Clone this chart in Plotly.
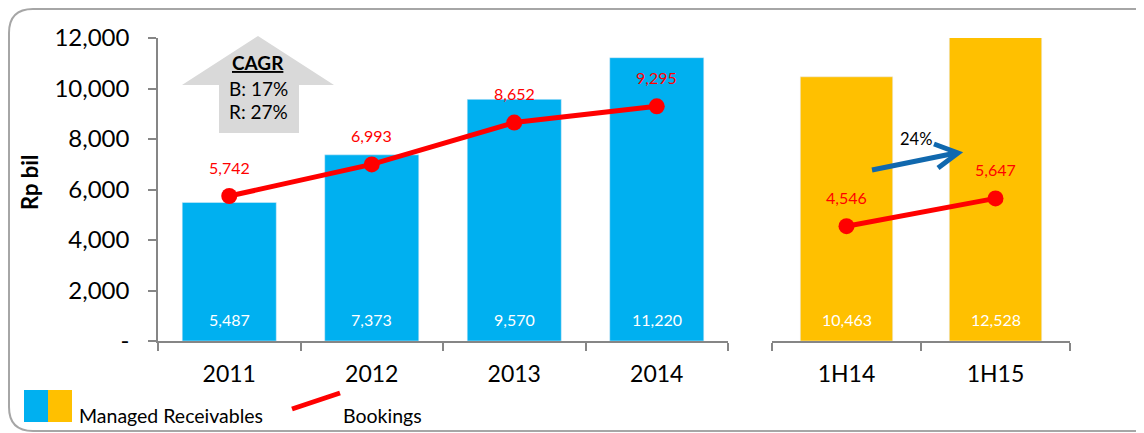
import plotly.graph_objects as go

# ---------------- data ----------------
years = ["2011", "2012", "2013", "2014"]
receivables_years = [5487, 7373, 9570, 11220]
bookings_years = [5742, 6993, 8652, 9295]

halves = ["1H14", "1H15"]
receivables_halves = [10463, 12528]
bookings_halves = [4546, 5647]

y_ticks = [0, 2000, 4000, 6000, 8000, 10000, 12000]
y_tick_text = ["-", "2,000", "4,000", "6,000", "8,000", "10,000", "12,000"]

cagr_lines = ["<b><u>CAGR</u></b>", "B: 17%", "R: 27%"]
growth_label = "24%"

# ---------------- styling ----------------
W, H = 1144, 433
FONT = "Lato"
BLUE = "#00B0F0"
GOLD = "#FFC000"
RED = "#FF0000"
AXIS = "#868686"
OX, OY = 8, 8  # page (body margin) offset compensation


def px(x):
    return (x - OX) / W


def py(y):
    return 1 - (y - OY) / H


fig = go.Figure()

# bars
fig.add_trace(go.Bar(x=years, y=receivables_years, marker_color=BLUE, width=0.66,
                     xaxis="x", yaxis="y", showlegend=False, hoverinfo="skip"))
fig.add_trace(go.Bar(x=halves, y=receivables_halves, marker_color=GOLD, width=0.62,
                     xaxis="x2", yaxis="y2", showlegend=False, hoverinfo="skip"))
# bookings lines
fig.add_trace(go.Scatter(x=years, y=bookings_years, mode="lines+markers",
                         line=dict(color=RED, width=5), marker=dict(color=RED, size=16),
                         xaxis="x", yaxis="y", showlegend=False, cliponaxis=False))
fig.add_trace(go.Scatter(x=halves, y=bookings_halves, mode="lines+markers",
                         line=dict(color=RED, width=5), marker=dict(color=RED, size=16),
                         xaxis="x2", yaxis="y2", showlegend=False, cliponaxis=False))

annotations = []
# value labels (category index positions)
for xs, vals, xr, yr in [(years, bookings_years, "x", "y"), (halves, bookings_halves, "x2", "y2")]:
    for i, v in enumerate(vals):
        annotations.append(dict(x=i, y=v, xref=xr, yref=yr, text=f"{v:,}", showarrow=False,
                                xanchor="center", yanchor="middle", yshift=29,
                                font=dict(family=FONT, size=16, color=RED)))
for xs, vals, xr, yr in [(years, receivables_years, "x", "y"), (halves, receivables_halves, "x2", "y2")]:
    for i, v in enumerate(vals):
        annotations.append(dict(x=i, y=0, xref=xr, yref=yr, text=f"{v:,}", showarrow=False,
                                xanchor="center", yanchor="middle", yshift=22,
                                font=dict(family=FONT, size=16, color="white")))


def note(x, y, text, size, xanchor="center", **kw):
    return dict(x=px(x), y=py(y), xref="paper", yref="paper", text=text, showarrow=False,
                xanchor=xanchor, yanchor="middle",
                font=dict(family=FONT, size=size, color="black"), **kw)


annotations.append(note(30, 183, "<b>Rp bil</b>", 22, textangle=-90))
for t, yy in zip(cagr_lines, [62, 88, 112]):
    annotations.append(note(258, yy, t, 19))
annotations.append(note(916, 139, growth_label, 16.5))
annotations.append(note(77, 415, "Managed Receivables", 19.5, xanchor="left"))
annotations.append(note(341, 415, "Bookings", 19.5, xanchor="left"))


def path(points, close=False):
    s = "M " + " L ".join(f"{px(x)},{py(y)}" for x, y in points)
    return s + (" Z" if close else "")


shapes = []
shapes.append(dict(type="path", xref="paper", yref="paper",
                   path=path([(258, 36), (334, 85), (299, 85), (299, 133), (219, 133),
                              (219, 85), (182, 85)], close=True),
                   fillcolor="#D9D9D9", line=dict(width=0), layer="below"))
shapes.append(dict(type="path", xref="paper", yref="paper",
                   path=path([(872, 170), (956, 153)]),
                   line=dict(color="#1068AE", width=5)))
shapes.append(dict(type="path", xref="paper", yref="paper",
                   path=path([(934, 144), (958, 153), (938, 168)]),
                   line=dict(color="#1068AE", width=5)))
shapes.append(dict(type="rect", xref="paper", yref="paper", x0=px(24), x1=px(48), y0=py(422), y1=py(390),
                   fillcolor=BLUE, line=dict(width=0)))
shapes.append(dict(type="rect", xref="paper", yref="paper", x0=px(48), x1=px(72), y0=py(422), y1=py(390),
                   fillcolor=GOLD, line=dict(width=0)))
shapes.append(dict(type="line", xref="paper", yref="paper", x0=px(292), y0=py(409), x1=px(340), y1=py(393),
                   line=dict(color=RED, width=5)))

L, T, R, B, r = 9, 9, 1170, 431, 24
frame = (f"M {px(L)},{py(T + r)} Q {px(L)},{py(T)} {px(L + r)},{py(T)} "
         f"L {px(R - r)},{py(T)} Q {px(R)},{py(T)} {px(R)},{py(T + r)} "
         f"L {px(R)},{py(B - r)} Q {px(R)},{py(B)} {px(R - r)},{py(B)} "
         f"L {px(L + r)},{py(B)} Q {px(L)},{py(B)} {px(L)},{py(B - r)} Z")
shapes.append(dict(type="path", xref="paper", yref="paper", path=frame,
                   line=dict(color="#A6A6A6", width=2), layer="below"))

ydom = [py(341), py(38)]
common_x = dict(type="category", showline=True, linecolor=AXIS, linewidth=1.5, ticks="outside",
                tickson="boundaries", ticklen=8, tickcolor=AXIS, tickwidth=1.5, showgrid=False,
                tickangle=0, tickfont=dict(family=FONT, size=23, color="black"), ticklabelstandoff=12)

fig.update_layout(
    width=W, height=H, margin=dict(l=0, r=0, t=0, b=0, pad=0, autoexpand=False),
    paper_bgcolor="white", plot_bgcolor="rgba(0,0,0,0)",
    barmode="overlay",
    xaxis=dict(domain=[px(158), px(728)], anchor="y", range=[-0.5, 3.5], **common_x),
    xaxis2=dict(domain=[px(772), px(1070)], anchor="y2", range=[-0.5, 1.5], **common_x),
    yaxis=dict(domain=ydom, anchor="x", range=[0, 12000], tickvals=y_ticks, ticktext=y_tick_text,
               showline=True, linecolor=AXIS, linewidth=1.5, ticks="outside", ticklen=8,
               tickcolor=AXIS, tickwidth=1.5, showgrid=False, zeroline=False,
               tickfont=dict(family=FONT, size=24, color="black"), ticklabelstandoff=14),
    yaxis2=dict(domain=ydom, anchor="x2", range=[0, 12000], showline=False, showticklabels=False,
                ticks="", showgrid=False, zeroline=False),
    annotations=annotations, shapes=shapes,
    showlegend=False,
)

fig.write_html("out.html")
